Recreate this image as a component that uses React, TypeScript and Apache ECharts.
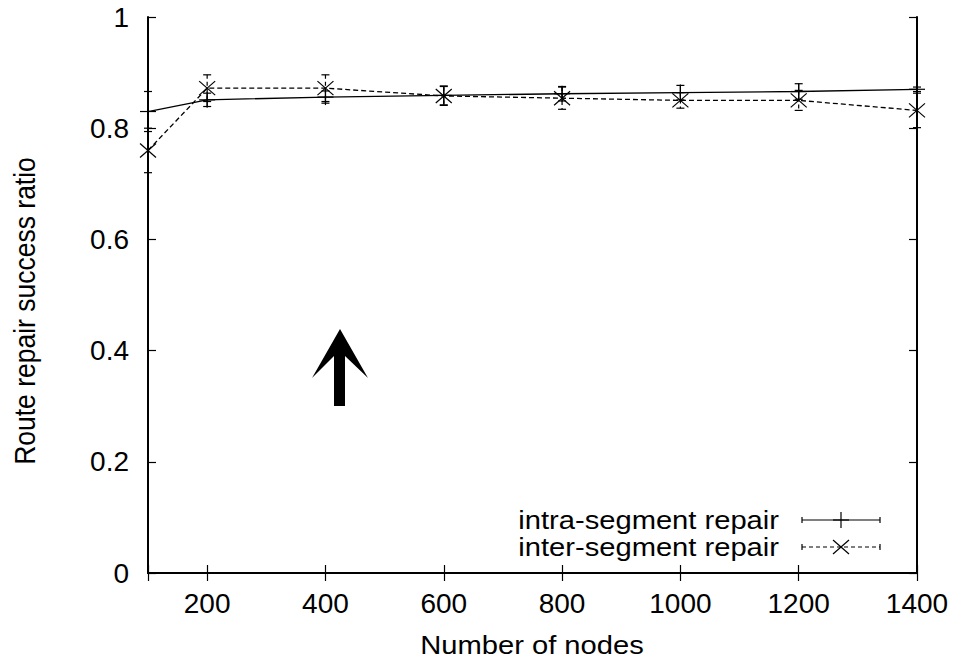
import React, { useEffect, useRef } from "react";
import * as echarts from "echarts";

const nodeCounts = [100, 200, 400, 600, 800, 1000, 1200, 1400];
const intraMean = [0.83, 0.851, 0.856, 0.859, 0.862, 0.864, 0.866, 0.87];
const intraErr = [0.036, 0.012, 0.011, 0.017, 0.013, 0.013, 0.014, 0.004];
const interMean = [0.76, 0.872, 0.872, 0.858, 0.854, 0.85, 0.85, 0.832];
const interErr = [0.04, 0.024, 0.024, 0.017, 0.02, 0.014, 0.018, 0.031];
const legendLabels = ["intra-segment repair", "inter-segment repair"];
const xTitle = "Number of nodes";
const yTitle = "Route repair success ratio";

const FONT = '"Liberation Sans", Arial, Helvetica, sans-serif';
const FS = 28;
const TFS = 26.5;
const STRETCH = 1.1;

function makeRenderer(marker: "plus" | "cross", dashed: boolean) {
  return (params: any, api: any) => {
    const x = api.value(0);
    const y = api.value(1);
    const e = api.value(2);
    const c = api.coord([x, y]);
    const t = api.coord([x, y + e]);
    const b = api.coord([x, y - e]);
    const style = { stroke: "#000", lineWidth: 1.2, lineDash: dashed ? [4, 3] : null, fill: null };
    const mstyle = { stroke: "#000", lineWidth: 1.2, fill: null };
    const cap = 4;
    const children: any[] = [
      { type: "line", shape: { x1: t[0], y1: t[1], x2: b[0], y2: b[1] }, style },
      { type: "line", shape: { x1: t[0] - cap, y1: t[1], x2: t[0] + cap, y2: t[1] }, style: mstyle },
      { type: "line", shape: { x1: b[0] - cap, y1: b[1], x2: b[0] + cap, y2: b[1] }, style: mstyle },
    ];
    if (marker === "plus") {
      children.push(
        { type: "line", shape: { x1: c[0] - 8, y1: c[1], x2: c[0] + 8, y2: c[1] }, style: mstyle },
        { type: "line", shape: { x1: c[0], y1: c[1] - 8, x2: c[0], y2: c[1] + 8 }, style: mstyle }
      );
    } else {
      children.push(
        { type: "line", shape: { x1: c[0] - 8, y1: c[1] - 7, x2: c[0] + 8, y2: c[1] + 7 }, style: mstyle },
        { type: "line", shape: { x1: c[0] - 8, y1: c[1] + 7, x2: c[0] + 8, y2: c[1] - 7 }, style: mstyle }
      );
    }
    return { type: "group", children };
  };
}

function legendItem(yPos: number, label: string, dashed: boolean, marker: "plus" | "cross") {
  const x1 = 802;
  const x2 = 880;
  const mx = 841;
  const ls = { stroke: "#000", lineWidth: 1.2, lineDash: dashed ? [4, 3] : null };
  const ms = { stroke: "#000", lineWidth: 1.2 };
  const els: any[] = [
    {
      type: "text",
      x: 779,
      y: yPos,
      scaleX: STRETCH,
      style: { text: label, font: `${TFS}px ${FONT}`, fill: "#000", align: "right", verticalAlign: "middle" },
    },
    { type: "line", shape: { x1, y1: yPos, x2, y2: yPos }, style: ls },
    { type: "line", shape: { x1, y1: yPos - 3, x2: x1, y2: yPos + 3 }, style: ms },
    { type: "line", shape: { x1: x2, y1: yPos - 3, x2, y2: yPos + 3 }, style: ms },
  ];
  if (marker === "plus") {
    els.push(
      { type: "line", shape: { x1: mx - 8, y1: yPos, x2: mx + 8, y2: yPos }, style: ms },
      { type: "line", shape: { x1: mx, y1: yPos - 8, x2: mx, y2: yPos + 8 }, style: ms }
    );
  } else {
    els.push(
      { type: "line", shape: { x1: mx - 8, y1: yPos - 7, x2: mx + 8, y2: yPos + 7 }, style: ms },
      { type: "line", shape: { x1: mx - 8, y1: yPos + 7, x2: mx + 8, y2: yPos - 7 }, style: ms }
    );
  }
  return els;
}

export default function App() {
  const ref = useRef<HTMLDivElement>(null);
  useEffect(() => {
    if (!ref.current) return;
    const chart = echarts.init(ref.current, undefined, { renderer: "svg" });
    const axisLine = { show: true, lineStyle: { color: "#000", width: 2 } };
    const axisTick = { show: true, inside: true, length: 8, lineStyle: { color: "#000", width: 1.2 } };
    const labelStyle = { color: "#000", fontSize: FS, fontFamily: FONT };
    const intraLine = nodeCounts.map((x, i) => [x, intraMean[i]]);
    const interLine = nodeCounts.map((x, i) => [x, interMean[i]]);
    const intraBars = nodeCounts.map((x, i) => [x, intraMean[i], intraErr[i]]);
    const interBars = nodeCounts.map((x, i) => [x, interMean[i], interErr[i]]);
    chart.setOption({
      animation: false,
      backgroundColor: "#fff",
      grid: { left: 148, right: 46, top: 17, bottom: 94, show: false },
      xAxis: [
        {
          type: "value",
          position: "bottom",
          min: 100,
          max: 1400,
          splitNumber: 6,
          minInterval: 200,
          maxInterval: 200,
          axisLine,
          axisTick,
          splitLine: { show: false },
          axisLabel: {
            ...labelStyle,
            margin: 16,
            formatter: (v: number) => (v === 100 ? "" : String(v)),
          },
        },
        {
          type: "value",
          position: "top",
          min: 100,
          max: 1400,
          splitNumber: 6,
          minInterval: 200,
          maxInterval: 200,
          axisLine,
          axisTick,
          splitLine: { show: false },
          axisLabel: { show: false },
        },
      ],
      yAxis: [
        {
          type: "value",
          position: "left",
          min: 0,
          max: 1,
          interval: 0.2,
          axisLine,
          axisTick,
          splitLine: { show: false },
          axisLabel: { ...labelStyle, margin: 19 },
        },
        {
          type: "value",
          position: "right",
          min: 0,
          max: 1,
          interval: 0.2,
          axisLine,
          axisTick,
          splitLine: { show: false },
          axisLabel: { show: false },
        },
      ],
      series: [
        {
          type: "line",
          name: legendLabels[0],
          data: intraLine,
          symbol: "none",
          clip: false,
          lineStyle: { color: "#000", width: 1.3, type: "solid" },
        },
        {
          type: "line",
          name: legendLabels[1],
          data: interLine,
          symbol: "none",
          clip: false,
          lineStyle: { color: "#000", width: 1.3, type: [5, 3] },
        },
        {
          type: "custom",
          data: intraBars,
          clip: false,
          renderItem: makeRenderer("plus", false),
          encode: { x: 0, y: 1 },
        },
        {
          type: "custom",
          data: interBars,
          clip: false,
          renderItem: makeRenderer("cross", true),
          encode: { x: 0, y: 1 },
        },
      ],
      graphic: [
        {
          type: "text",
          x: 532,
          y: 645,
          scaleX: STRETCH,
          style: { text: xTitle, font: `${TFS}px ${FONT}`, fill: "#000", align: "center", verticalAlign: "middle" },
        },
        {
          type: "text",
          x: 25,
          y: 311,
          rotation: Math.PI / 2,
          scaleY: STRETCH,
          style: { text: yTitle, font: `${TFS}px ${FONT}`, fill: "#000", align: "center", verticalAlign: "middle" },
        },
        ...legendItem(520, legendLabels[0], false, "plus"),
        ...legendItem(547, legendLabels[1], true, "cross"),
        {
          type: "polygon",
          shape: {
            points: [
              [340, 329],
              [368, 378],
              [345, 356],
              [345, 406],
              [334, 406],
              [334, 356],
              [312, 378],
            ],
          },
          style: { fill: "#000" },
        },
      ],
    });
    return () => chart.dispose();
  }, []);
  return (
    <div
      ref={ref}
      style={{ position: "absolute", left: 0, top: 0, width: 963, height: 667 }}
    />
  );
}
